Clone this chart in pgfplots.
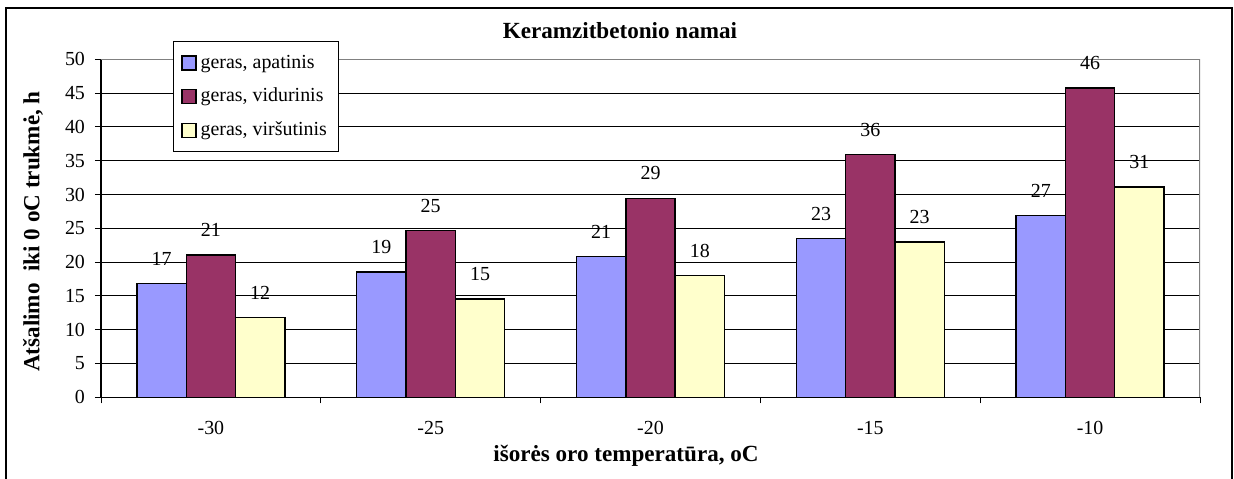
\documentclass[border=0pt]{standalone}
\usepackage{pgfplots}
\pgfplotsset{compat=1.18}
\usepackage{fontspec}
\setmainfont{Liberation Serif}
\definecolor{cblue}{HTML}{9999FF}
\definecolor{cpurple}{HTML}{993366}
\definecolor{cyellow}{HTML}{FFFFCC}
\newcommand{\regfont}{\fontsize{10}{12}\selectfont}
\newcommand{\boldfont}{\fontsize{11.6}{14}\selectfont\bfseries}
\begin{document}
\regfont
\begin{tikzpicture}[font=\regfont]
\useasboundingbox (0,0) rectangle (617bp,239.5bp);
\fill[white] (0,0) rectangle (617bp,239.5bp);
\draw[line width=0.7bp] (3bp,-5bp) rectangle (616bp,235.5bp);
\begin{axis}[
  at={(50.5bp,40.85bp)}, anchor=south west,
  scale only axis, width=549.5bp, height=169bp,
  ybar=0pt, bar width=24.65bp,
  xmin=-0.5, xmax=4.5, ymin=0, ymax=50,
  xtick={0,1,2,3,4}, xticklabels={-30,-25,-20,-15,-10},
  minor xtick={-0.5,0.5,1.5,2.5,3.5,4.5},
  ytick={0,5,...,50},
  axis lines*=left,
  axis line style={black, line width=0.6bp},
  tick align=outside, major tick length=3bp, minor tick length=3bp,
  major x tick style={draw=none},
  tick style={black, line width=0.5bp},
  ymajorgrids, grid style={black, line width=0.5bp},
  /pgf/number format/assume math mode=true,
  ticklabel style={font=\regfont},
  yticklabel style={xshift=-1.5bp},
  xticklabel style={yshift=-5.5bp},
  title={Keramzitbetonio namai},
  title style={at={(axis description cs:0.4722,1.083)}, anchor=center, yshift=-5.5bp, font=\boldfont},
  xlabel={išorės oro temperatūra, oC},
  xlabel style={at={(axis description cs:0.4777,-0.1648)}, anchor=center, yshift=-1.5bp, font=\boldfont},
  ylabel={Atšalimo\ \ iki 0 oC trukmė, h},
  ylabel style={at={(axis description cs:-0.06,0.4905)}, anchor=center, xshift=0pt, yshift=1bp, font=\boldfont},
  nodes near coords={\pgfmathprintnumber[fixed,precision=0,assume math mode=true]{\pgfplotspointmeta}},
  every node near coord/.append style={black, font=\regfont, yshift=5.4bp},
  legend style={at={(axis description cs:0.0655,1.053)}, anchor=north west, draw=black, line width=0.5bp, fill=white, font=\regfont, row sep=4.5bp, inner xsep=4bp, inner ysep=4.5bp, cells={anchor=west}},
  legend image code/.code={\draw[#1, draw=black, line width=0.6bp] (0bp,-3.5bp) rectangle (7bp,3.5bp);},
]
\addplot[fill=cblue, draw=black, line width=0.7bp] coordinates {(0,16.8) (1,18.55) (2,20.8) (3,23.45) (4,26.9)};
\addplot[fill=cpurple, draw=black, line width=0.7bp] coordinates {(0,21.05) (1,24.65) (2,29.45) (3,35.9) (4,45.75)};
\addplot[fill=cyellow, draw=black, line width=0.7bp] coordinates {(0,11.8) (1,14.55) (2,18.0) (3,23.0) (4,31.1)};
\legend{geras, apatinis\\geras, vidurinis\\geras, viršutinis\\}
\draw[gray, line width=0.6bp] (rel axis cs:0,1) -- (rel axis cs:1,1) -- (rel axis cs:1,0);
\end{axis}
\end{tikzpicture}
\end{document}
